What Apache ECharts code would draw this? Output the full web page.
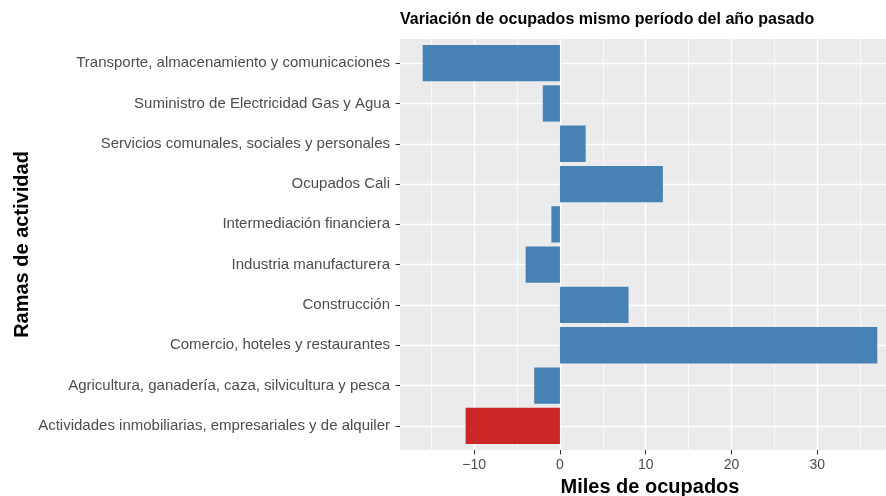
<!DOCTYPE html>
<html>
<head>
<meta charset="utf-8">
<script src="https://cdn.jsdelivr.net/npm/echarts@6/dist/echarts.min.js"></script>
<style>
  html, body { margin: 0; padding: 0; background: #fff; }
  #chart { width: 886px; height: 496px; }
</style>
</head>
<body>
<div id="chart"></div>
<script>
// categorias de abajo hacia arriba (orden del eje)
const categories = [
  "Actividades inmobiliarias, empresariales y de alquiler",
  "Agricultura, ganadería, caza, silvicultura y pesca",
  "Comercio, hoteles y restaurantes",
  "Construcción",
  "Industria manufacturera",
  "Intermediación financiera",
  "Ocupados Cali",
  "Servicios comunales, sociales y personales",
  "Suministro de Electricidad Gas y Agua",
  "Transporte, almacenamiento y comunicaciones"
];
const values = [-11, -3, 37, 8, -4, -1, 12, 3, -2, -16];
const highlight = "Actividades inmobiliarias, empresariales y de alquiler";
const xTicks = [-10, 0, 10, 20, 30];
const xMinor = [-15, -5, 5, 15, 25, 35];

const font = "Liberation Sans";
const chart = echarts.init(document.getElementById("chart"));

const xMin = -18.65, xMax = 39.65;
const hidden = { show: true, onZero: false, lineStyle: { color: "rgba(0,0,0,0)" } };

const option = {
  animation: false,
  title: {
    text: "Variación de ocupados mismo período del año pasado",
    left: 395,
    top: 7,
    textStyle: { fontFamily: font, fontSize: 16, fontWeight: "bold", color: "#000" }
  },
  grid: [
    { left: 400, right: -14, top: 39, bottom: 46, show: true, backgroundColor: "#EBEBEB", borderWidth: 0, outerBoundsMode: "none", containLabel: false },
    { left: 400, right: -14, top: 43, bottom: 50, outerBoundsMode: "none", containLabel: false }
  ],
  xAxis: [
    {
      type: "value", gridIndex: 0, min: xMin, max: xMax,
      axisLine: hidden,
      splitLine: { show: false },
      axisTick: { show: true, customValues: xTicks, length: 4.5, lineStyle: { color: "#333", width: 1.1 } },
      axisLabel: { customValues: xTicks, margin: 8, fontFamily: font, fontSize: 14, color: "#4D4D4D",
        formatter: v => (v < 0 ? "\u2212" + Math.abs(v) : String(v)) },
      name: "Miles de ocupados", nameLocation: "middle", nameGap: 27,
      nameTextStyle: { fontFamily: font, fontSize: 20, fontWeight: "bold", color: "#000" }
    },
    {
      type: "value", gridIndex: 1, min: xMin, max: xMax, show: false
    }
  ],
  yAxis: [
    { type: "value", gridIndex: 0, min: 0, max: 1, show: false },
    {
      type: "category", gridIndex: 1, data: categories,
      axisLine: hidden,
      splitLine: { show: false },
      axisTick: { show: true, alignWithLabel: true, length: 4.5, lineStyle: { color: "#333", width: 1.1 } },
      axisLabel: { margin: 10, padding: [3, 0, 0, 0], fontFamily: font, fontSize: 15, color: "#4D4D4D" },
      name: "Ramas de actividad", nameLocation: "middle", nameGap: 368, nameRotate: 90,
      nameMoveOverlap: false,
      nameTextStyle: { fontFamily: font, fontSize: 20, fontWeight: "bold", color: "#000" }
    }
  ],
  series: [
    {
      type: "line", xAxisIndex: 0, yAxisIndex: 0, data: [], silent: true, z: 1,
      markLine: {
        silent: true, symbol: "none", label: { show: false }, animation: false, z: 1,
        data: xMinor.map(v => ({ xAxis: v, lineStyle: { color: "#fff", width: 0.7, type: "solid" } }))
          .concat(xTicks.map(v => ({ xAxis: v, lineStyle: { color: "#fff", width: 1.4, type: "solid" } })))
      }
    },
    {
      type: "line", xAxisIndex: 1, yAxisIndex: 1, data: [], silent: true, z: 1,
      markLine: {
        silent: true, symbol: "none", label: { show: false }, animation: false, z: 1,
        data: categories.map(c => ({ yAxis: c, lineStyle: { color: "#fff", width: 1.4, type: "solid" } }))
      }
    },
    {
      type: "bar", xAxisIndex: 1, yAxisIndex: 1, z: 10,
      barCategoryGap: "10%",
      data: values.map((v, i) => ({
        value: v,
        itemStyle: { color: categories[i] === highlight ? "#CD2626" : "#4682B4" }
      }))
    }
  ]
};
chart.setOption(option);
</script>
</body>
</html>
